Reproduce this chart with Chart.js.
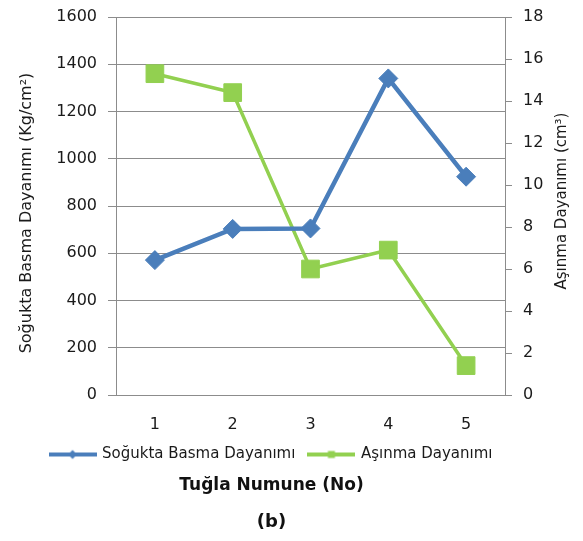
<!DOCTYPE html>
<html>
<head>
<meta charset="utf-8">
<script src="https://cdn.jsdelivr.net/npm/chart.js@4"></script>
<style>
  html, body { margin: 0; padding: 0; background: #fff; }
  #wrap { width: 583px; height: 541px; }
</style>
</head>
<body>
<div id="wrap"><canvas id="chart"></canvas></div>
<script>
// === Data ===
const categories = ['1', '2', '3', '4', '5'];
const basmaValues = [571, 703, 705, 1340, 924];      // Soğukta Basma Dayanımı (Kg/cm²)
const asinmaValues = [15.3, 14.4, 6.0, 6.9, 1.4];     // Aşınma Dayanımı (cm³)
const leftAxisRange = [0, 1600, 200];                 // min, max, step
const rightAxisRange = [0, 18, 2];

const seriesNames = ['Soğukta Basma Dayanımı', 'Aşınma Dayanımı'];
const leftTitle = 'Soğukta Basma Dayanımı (Kg/cm²)';
const rightTitle = 'Aşınma Dayanımı (cm³)';
const xTitle = 'Tuğla Numune (No)';
const figLabel = '(b)';

// === Styles ===
const BLUE = '#4a7ebb';
const GREEN = '#92d050';
const GRID = '#8c8c8c';
const TEXT = '#1a1a1a';
const FONT = "'DejaVu Sans', sans-serif";

// legend swatch: line with marker, like the office-style legend
function makeSwatch(color, marker) {
    const c = document.createElement('canvas');
    c.width = 48; c.height = 12;
    const g = c.getContext('2d');
    g.strokeStyle = color;
    g.lineWidth = 4;
    g.beginPath(); g.moveTo(0, 6); g.lineTo(48, 6); g.stroke();
    g.fillStyle = color;
    if (marker === 'diamond') {
        g.beginPath(); g.moveTo(24, 1.5); g.lineTo(28.5, 6); g.lineTo(24, 10.5); g.lineTo(19.5, 6); g.closePath(); g.fill();
    } else {
        g.fillRect(20.5, 2.5, 7, 7);
    }
    return c;
}
const swatches = [makeSwatch(BLUE, 'diamond'), makeSwatch(GREEN, 'square')];

// rotated axis titles, both reading bottom to top
const sideTitles = {
    id: 'sideTitles',
    afterDraw(chart) {
        const ctx = chart.ctx;
        const area = chart.chartArea;
        const mid = (area.top + area.bottom) / 2;
        const items = [
            { text: leftTitle, x: 27, y: mid + 7, size: 16 },
            { text: rightTitle, x: 562, y: mid - 5, size: 15 }
        ];
        items.forEach(t => {
            ctx.save();
            ctx.translate(t.x, t.y);
            ctx.rotate(-Math.PI / 2);
            ctx.font = t.size + 'px ' + FONT;
            ctx.fillStyle = TEXT;
            ctx.textAlign = 'center';
            ctx.textBaseline = 'middle';
            ctx.fillText(t.text, 0, 0);
            ctx.restore();
        });
    }
};

const plainTick = (v) => String(v);
// pin the vertical axes' width and drop the label overflow padding
const fitVertical = (w) => (s) => { s.width = w; s.paddingTop = 0; s.paddingBottom = 0; };

const ctx = document.getElementById('chart').getContext('2d');
new Chart(ctx, {
    type: 'line',
    data: {
        labels: categories,
        datasets: [
            {
                label: seriesNames[0],
                data: basmaValues,
                yAxisID: 'y',
                borderColor: BLUE,
                backgroundColor: BLUE,
                borderWidth: 4.5,
                pointStyle: 'rectRot',
                pointRadius: 9.5,
                pointBorderWidth: 1,
                tension: 0
            },
            {
                label: seriesNames[1],
                data: asinmaValues,
                yAxisID: 'y1',
                borderColor: GREEN,
                backgroundColor: GREEN,
                borderWidth: 3.5,
                pointStyle: 'rect',
                pointRadius: 12.5,
                pointBorderWidth: 1,
                tension: 0
            }
        ]
    },
    options: {
        responsive: true,
        maintainAspectRatio: false,
        animation: false,
        layout: { padding: { top: 17, right: 40, bottom: 8, left: 0 } },
        scales: {
            x: {
                offset: true,
                grid: { display: false },
                border: { color: GRID, width: 1 },
                ticks: { color: TEXT, font: { family: FONT, size: 16 }, padding: 12 },
                afterFit: (s) => { s.height = 38; s.paddingLeft = 0; s.paddingRight = 0; }
            },
            y: {
                position: 'left',
                min: leftAxisRange[0],
                max: leftAxisRange[1],
                grid: { color: GRID, lineWidth: 1, tickLength: 8 },
                border: { color: GRID, width: 1 },
                ticks: { stepSize: leftAxisRange[2], callback: plainTick, color: TEXT, font: { family: FONT, size: 16 }, padding: 11 },
                afterFit: fitVertical(116)
            },
            y1: {
                position: 'right',
                min: rightAxisRange[0],
                max: rightAxisRange[1],
                grid: { drawOnChartArea: false, color: GRID, tickLength: 7 },
                border: { color: GRID, width: 1 },
                ticks: { stepSize: rightAxisRange[2], callback: plainTick, color: TEXT, font: { family: FONT, size: 16 }, padding: 11 },
                afterFit: fitVertical(38)
            }
        },
        plugins: {
            legend: {
                position: 'bottom',
                labels: {
                    usePointStyle: true,
                    pointStyleWidth: 44,
                    padding: 14,
                    color: TEXT,
                    font: { family: FONT, size: 15 },
                    generateLabels: (chart) => chart.data.datasets.map((ds, i) => ({
                        text: ds.label,
                        pointStyle: swatches[i],
                        fillStyle: ds.borderColor,
                        strokeStyle: ds.borderColor,
                        lineWidth: 0,
                        fontColor: TEXT,
                        hidden: !chart.isDatasetVisible(i),
                        datasetIndex: i
                    }))
                }
            },
            title: {
                display: true,
                position: 'bottom',
                text: xTitle,
                weight: 1500,
                color: '#111',
                font: { family: FONT, size: 17, weight: 'bold' },
                padding: { top: 3, bottom: 8 }
            },
            subtitle: {
                display: true,
                position: 'bottom',
                text: figLabel,
                weight: 2000,
                color: '#111',
                font: { family: FONT, size: 18, weight: 'bold' },
                padding: { top: 8, bottom: 0 }
            },
            tooltip: { enabled: false }
        }
    },
    plugins: [sideTitles]
});
</script>
</body>
</html>
